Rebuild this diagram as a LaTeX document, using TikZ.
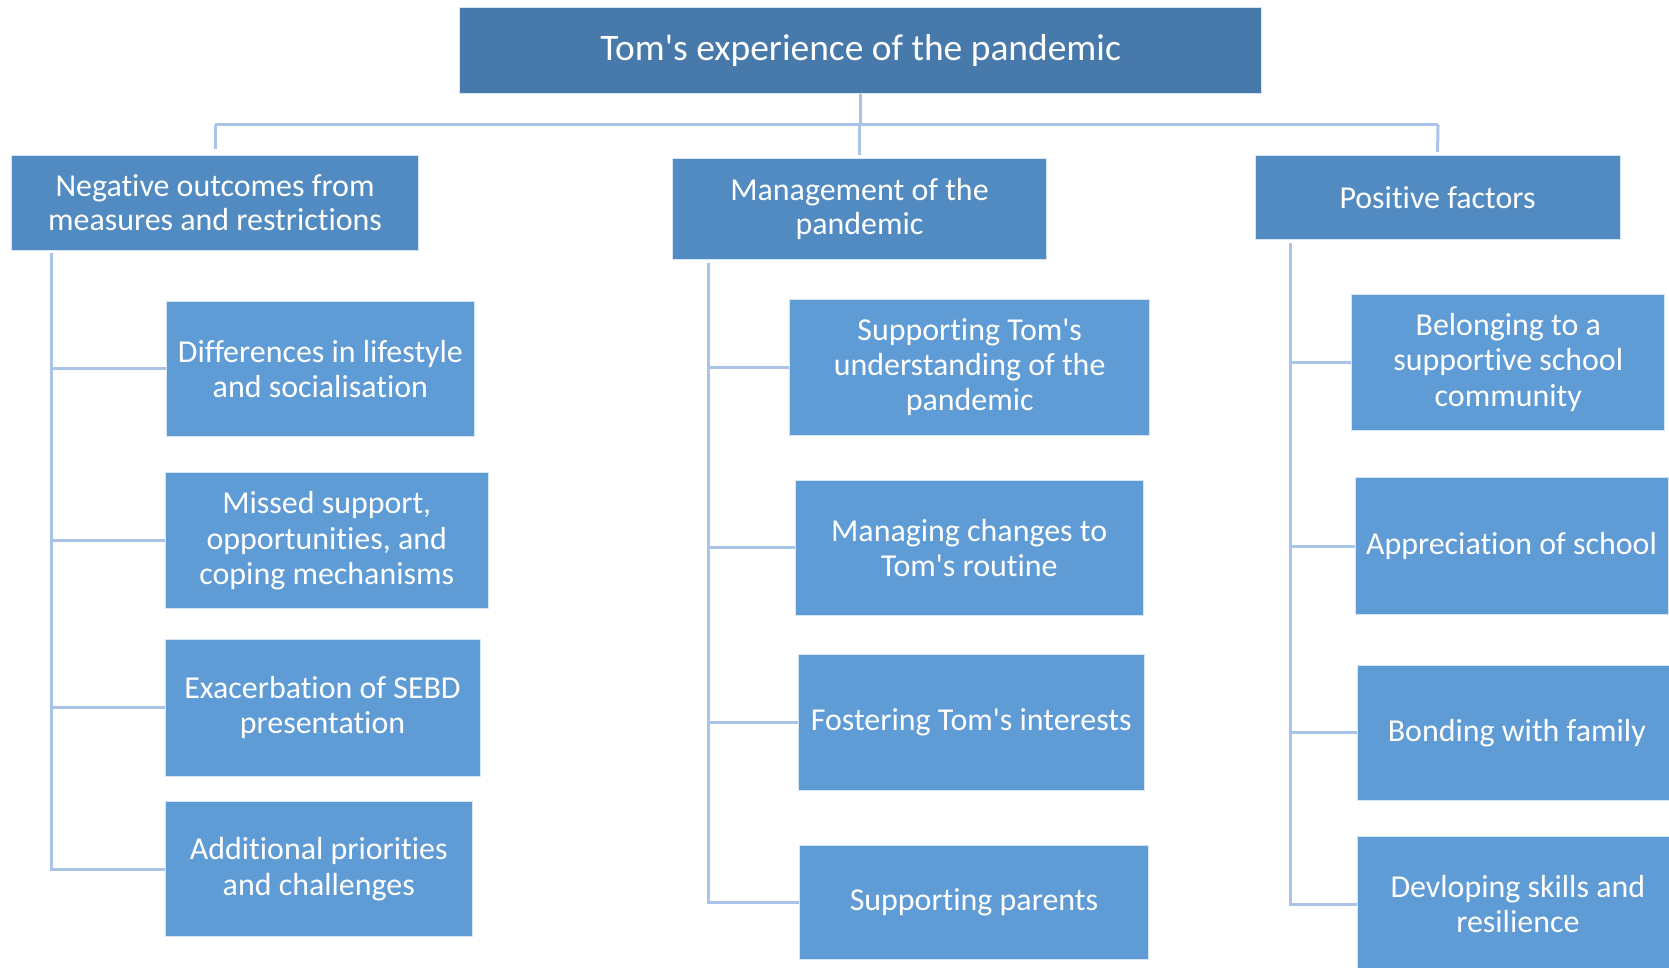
\documentclass[tikz,border=0pt]{standalone}
\usepackage{fontspec}
\setmainfont[RawFeature={-liga;-clig;-calt;-dlig}]{Carlito}
\newcommand{\ap}{\textquotesingle}
\definecolor{topblue}{HTML}{4779AB}
\definecolor{midblue}{HTML}{528BC1}
\definecolor{leafblue}{HTML}{5F9BD5}
\definecolor{linkblue}{HTML}{A9C4E8}
\tikzset{
  box/.style={rectangle, inner sep=0pt, align=center, text=white, draw=white!75!leafblue, line width=0.4pt},
  topbox/.style={box, fill=topblue, font=\fontsize{17.6}{22}\selectfont},
  headbox/.style={box, fill=midblue, font=\fontsize{15}{16}\selectfont},
  leafbox/.style={box, fill=leafblue, font=\fontsize{15}{16.5}\selectfont},
  link/.style={draw=linkblue, line width=1.4pt}
}
\begin{document}
\begin{tikzpicture}[x=0.5pt,y=-0.5pt]
\useasboundingbox (0,0) rectangle (1568,909);
\clip (0,0) rectangle (1568,909);
% top
\node[topbox, minimum width=376.5pt, minimum height=40.5pt] (top) at (808.5,47.5) {Tom\ap s experience of the pandemic};
% level 1
\node[headbox, minimum width=191pt, minimum height=44.5pt] (neg) at (202,190.5) {Negative outcomes from\\measures and restrictions};
\node[headbox, minimum width=175.5pt, minimum height=47.5pt] (man) at (807.5,196.5) {Management of the\\pandemic};
\node[headbox, minimum width=171.5pt, minimum height=39.5pt] (pos) at (1350.5,185.5) {Positive factors};
% leaves left
\node[leafbox, minimum width=145pt, minimum height=63.5pt] (n1) at (301,346.5) {Differences in lifestyle\\and socialisation};
\node[leafbox, minimum width=152pt, minimum height=64pt] (n2) at (307,508) {Missed support,\\opportunities, and\\coping mechanisms};
\node[leafbox, minimum width=148pt, minimum height=64pt] (n3) at (303,665) {Exacerbation of SEBD\\presentation};
\node[leafbox, minimum width=144.5pt, minimum height=63.5pt] (n4) at (299.5,816.5) {Additional priorities\\and challenges};
% leaves middle
\node[leafbox, minimum width=169pt, minimum height=64pt] (m1) at (911,345) {Supporting Tom\ap s\\understanding of the\\pandemic};
\node[leafbox, minimum width=163.5pt, minimum height=63.5pt] (m2) at (910.5,514.5) {Managing changes to\\Tom\ap s routine};
\node[leafbox, minimum width=162.5pt, minimum height=64pt] (m3) at (912.5,679) {Fostering Tom\ap s interests};
\node[leafbox, minimum width=164pt, minimum height=53.5pt] (m4) at (915,847.5) {Supporting parents};
% leaves right
\node[leafbox, minimum width=147pt, minimum height=63.5pt] (p1) at (1417,340.5) {Belonging to a\\supportive school\\community};
\node[leafbox, minimum width=147pt, minimum height=64pt] (p2) at (1420,513) {Appreciation of school};
\node[leafbox, minimum width=150pt, minimum height=63.5pt] (p3) at (1425,688.5) {Bonding with family};
\node[leafbox, minimum width=151pt, minimum height=63.5pt] (p4) at (1426,849.5) {Devloping skills and\\resilience};
% bus
\coordinate (busL) at (202,117);
\coordinate (busR) at (1351,117);
\draw[link] (top.south) -- (top.south |- busL);
\draw[link] (busL) -- (busR);
\draw[link, shorten >=3pt] (busL) -- (neg.north);
\draw[link, shorten >=1.5pt] (man.north |- busL) -- (man.north);
\draw[link, shorten >=1.5pt] (busR) -- (pos.north);
% spines
\coordinate (sL) at (48,238);
\coordinate (sM) at (666,247);
\coordinate (sR) at (1212,228);
\draw[link] (sL) -- (sL |- n4.west) -- (n4.west);
\draw[link] (sL |- n1.west) -- (n1.west);
\draw[link] (sL |- n2.west) -- (n2.west);
\draw[link] (sL |- n3.west) -- (n3.west);
\draw[link] (sM) -- (sM |- m4.west) -- (m4.west);
\draw[link] (sM |- m1.west) -- (m1.west);
\draw[link] (sM |- m2.west) -- (m2.west);
\draw[link] (sM |- m3.west) -- (m3.west);
\draw[link] (sR) -- (sR |- p4.west) -- (p4.west);
\draw[link] (sR |- p1.west) -- (p1.west);
\draw[link] (sR |- p2.west) -- (p2.west);
\draw[link] (sR |- p3.west) -- (p3.west);
\end{tikzpicture}
\end{document}
